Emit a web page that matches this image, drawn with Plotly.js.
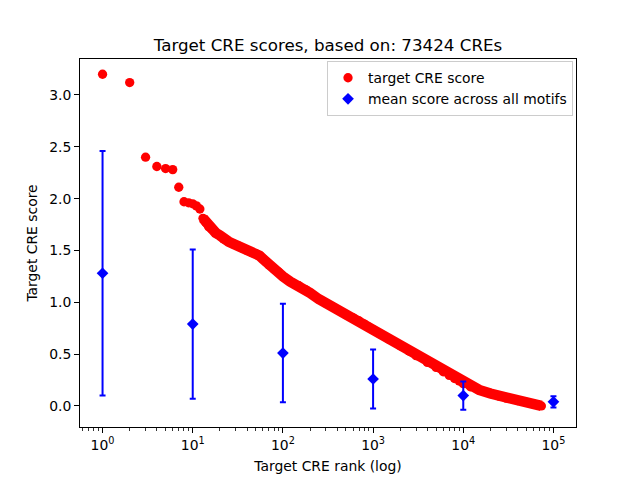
<!DOCTYPE html>
<html><head><meta charset="utf-8">
<script src="https://cdn.plot.ly/plotly-3.0.1.min.js"></script>
<style>html,body{margin:0;padding:0;background:#fff}#chart{width:640px;height:480px}</style>
</head><body><div id="chart"></div>
<script>
const creRanks = [1,2,3,4,5,6,7,8,9,10,11,12,13,14,15,16,18,20,22,25,28,32,36,40,45,50,55,60,65,70,80,90,100,120,150,180,200,250,300,350,400,500,600,700,800,900,1000,1200,1500,2000,2500,3000,4000,5000,6000,7000,8000,9000,10000,12000,15000,20000,25000,30000,40000,50000,60000,73424];
const creScores = [3.20,3.12,2.40,2.31,2.29,2.28,2.11,1.97,1.96,1.95,1.93,1.90,1.81,1.77,1.73,1.71,1.67,1.645,1.61,1.585,1.565,1.545,1.52,1.50,1.48,1.47,1.45,1.42,1.39,1.36,1.32,1.29,1.25,1.20,1.16,1.12,1.09,1.03,0.99,0.96,0.93,0.88,0.85,0.82,0.79,0.76,0.735,0.695,0.645,0.58,0.53,0.485,0.42,0.372,0.33,0.295,0.265,0.24,0.215,0.185,0.155,0.12,0.095,0.075,0.052,0.034,0.02,0.0];
const motifRanks = [1,10,100,1000,10000,100000];
const motifMeans = [1.28,0.79,0.51,0.26,0.10,0.04];
const motifErrors = [1.18,0.72,0.475,0.285,0.137,0.054];
const xTickVals = [1,10,100,1000,10000,100000];
const xTickText = ['10<sup>0</sup>','10<sup>1</sup>','10<sup>2</sup>','10<sup>3</sup>','10<sup>4</sup>','10<sup>5</sup>'];
const yTickVals = [0,0.5,1,1.5,2,2.5,3];
const yTickText = ['0.0','0.5','1.0','1.5','2.0','2.5','3.0'];

const minorVals = [];
for (let e = -1; e <= 5; e++) for (let m = 2; m <= 9; m++) minorVals.push(m * Math.pow(10, e));

const lineStart = creRanks.indexOf(13);
const FONT = 'DejaVu Sans, sans-serif';

const traces = [
  {x: creRanks.slice(lineStart), y: creScores.slice(lineStart), mode: 'lines', type: 'scatter',
   line: {color: '#ff0000', width: 10.5}, showlegend: false, hoverinfo: 'skip'},
  {x: creRanks, y: creScores, mode: 'markers', type: 'scatter', name: 'target CRE score',
   marker: {color: '#ff0000', size: 9.3, symbol: 'circle'}},
  {x: motifRanks, y: motifMeans, mode: 'markers', type: 'scatter', name: 'mean score across all motifs',
   marker: {color: '#0000ff', size: 9, symbol: 'diamond'},
   error_y: {type: 'data', array: motifErrors, visible: true, color: '#0000ff', thickness: 2, width: 3}}
];

const layout = {
  width: 640, height: 480,
  margin: {l: 80, r: 64, t: 59, b: 53},
  paper_bgcolor: '#fff', plot_bgcolor: '#fff',
  font: {family: FONT, size: 13.9, color: '#000'},
  title: {text: 'Target CRE scores, based on: 73424 CREs', font: {family: FONT, size: 16.7, color: '#000'},
          x: 0.5, xref: 'paper', y: 1, yref: 'paper', yanchor: 'bottom', pad: {b: 8}},
  xaxis: {type: 'log', range: [-0.25, 5.25], tickmode: 'array', tickvals: xTickVals, ticktext: xTickText,
          ticks: 'outside', ticklen: 5, tickwidth: 1, tickcolor: '#000', showgrid: false, zeroline: false,
          showline: true, mirror: true, linecolor: '#000', linewidth: 1,
          minor: {tickmode: 'array', tickvals: minorVals, ticks: 'outside', ticklen: 3, tickwidth: 0.8, tickcolor: '#000', showgrid: false},
          title: {text: 'Target CRE rank (log)', standoff: 9, font: {family: FONT, size: 13.9}},
          tickfont: {family: FONT, size: 13.9}, automargin: false},
  yaxis: {range: [-0.203, 3.347], tickmode: 'array', tickvals: yTickVals, ticktext: yTickText,
          ticks: 'outside', ticklen: 5, tickwidth: 1, tickcolor: '#000', showgrid: false, zeroline: false,
          showline: true, mirror: true, linecolor: '#000', linewidth: 1,
          title: {text: 'Target CRE score', standoff: 8, font: {family: FONT, size: 13.9}},
          tickfont: {family: FONT, size: 13.9}, automargin: false},
  legend: {x: 0.994, xanchor: 'right', y: 0.994, yanchor: 'top', bgcolor: 'rgba(255,255,255,0.8)',
           bordercolor: '#cccccc', borderwidth: 1, font: {family: FONT, size: 13.9}},
  showlegend: true
};

Plotly.newPlot('chart', traces, layout, {staticPlot: true, displayModeBar: false});
</script>
</body></html>
